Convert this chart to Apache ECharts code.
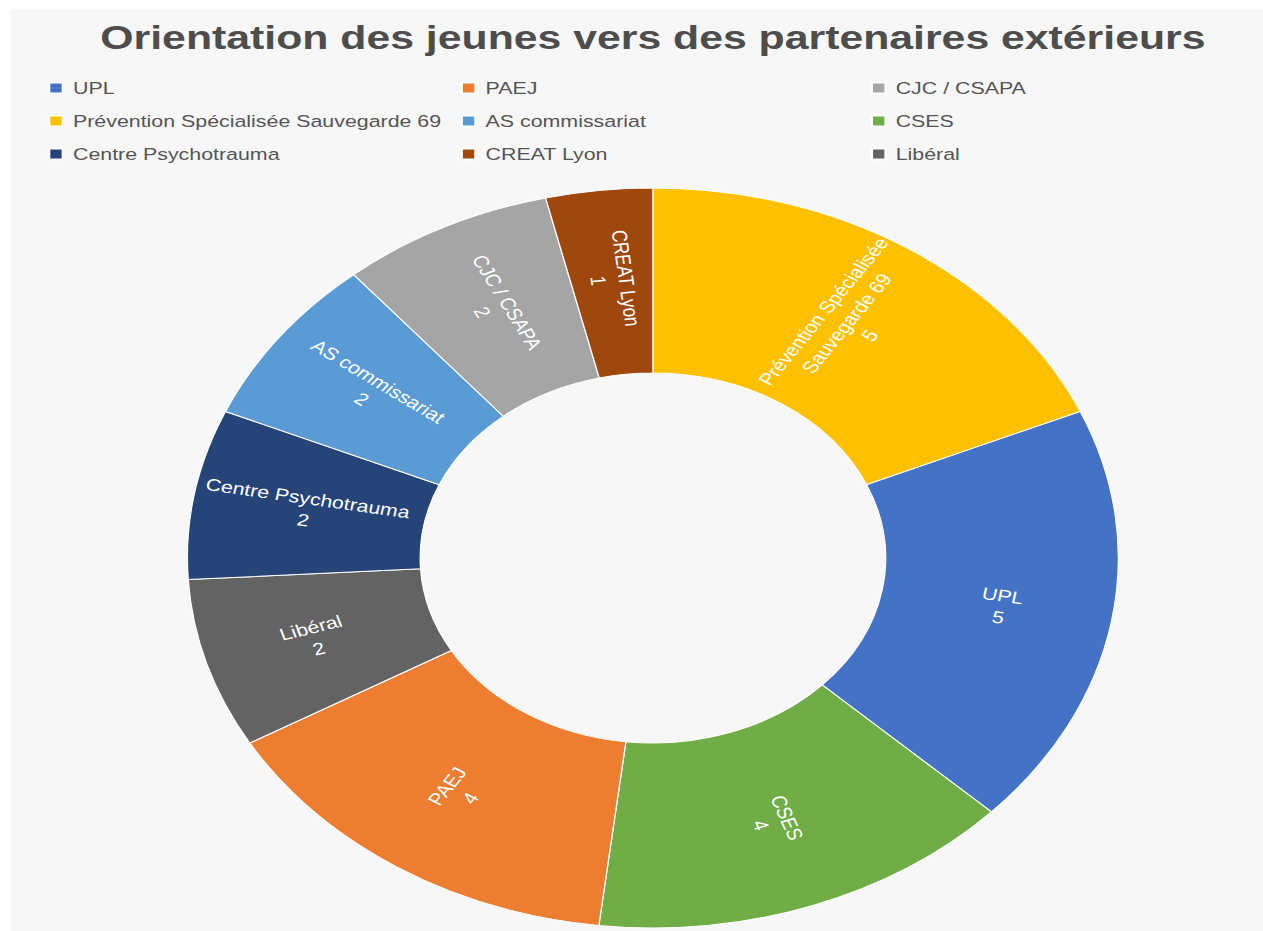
<!DOCTYPE html>
<html>
<head>
<meta charset="utf-8">
<title>Orientation des jeunes vers des partenaires extérieurs</title>
<script src="https://cdn.jsdelivr.net/npm/echarts@6/dist/echarts.min.js"></script>
<style>
  html, body { margin: 0; padding: 0; background: #ffffff; overflow: hidden; }
  #panel { position: absolute; left: 11px; top: 9px; right: 0; bottom: 0; background: #f7f7f7; }
  /* the source picture is stretched sideways (~1.258x), so draw narrow and widen it */
  #chart { position: absolute; left: 0; top: 0; width: 1004px; height: 931px; transform: scaleX(1.258); transform-origin: 0 0; }
</style>
</head>
<body>
<div id="panel"></div>
<div id="chart"></div>
<script>
// slices, clockwise from 12 o'clock
const partners = ['Prévention Spécialisée Sauvegarde 69', 'UPL', 'CSES', 'PAEJ', 'Libéral', 'Centre Psychotrauma', 'AS commissariat', 'CJC / CSAPA', 'CREAT Lyon'];
const counts = [5, 5, 4, 4, 2, 2, 2, 2, 1];
const colors = ['#FFC000', '#4472C4', '#70AD47', '#ED7D31', '#636363', '#264478', '#5B9BD5', '#A5A5A5', '#9E480E'];

// legend is laid out in 3 columns
const legendCol1 = ['UPL', 'Prévention Spécialisée Sauvegarde 69', 'Centre Psychotrauma'];
const legendCol2 = ['PAEJ', 'AS commissariat', 'CREAT Lyon'];
const legendCol3 = ['CJC / CSAPA', 'CSES', 'Libéral'];
const legendLeft = [38, 366, 692];

const fontFamily = '"Liberation Sans", Arial, sans-serif';

const wrapName = (name, max) => {
  const lines = [];
  let line = '';
  name.split(' ').forEach((w) => {
    if (line && (line + ' ' + w).length > max) {
      lines.push(line);
      line = w;
    } else {
      line = line ? line + ' ' + w : w;
    }
  });
  lines.push(line);
  return lines.join('\n');
};

const legendFor = (names, left) => ({
  data: names,
  orient: 'vertical',
  left: left,
  top: 78,
  padding: 0,
  itemGap: 13,
  itemWidth: 11,
  itemHeight: 11,
  icon: 'rect',
  selectedMode: false,
  textStyle: {
    fontFamily,
    fontSize: 17,
    lineHeight: 20,
    color: '#555555',
    padding: [0, 0, 0, 3],
  },
});

const chart = echarts.init(document.getElementById('chart'), null, { renderer: 'svg' });

chart.setOption({
  animation: false,
  backgroundColor: 'transparent',
  title: {
    text: 'Orientation des jeunes vers des partenaires extérieurs',
    left: 519,
    top: 20,
    padding: 0,
    textAlign: 'center',
    textStyle: {
      fontFamily,
      fontSize: 34,
      fontWeight: 'bold',
      color: '#4d4d4d',
    },
  },
  legend: [
    legendFor(legendCol1, legendLeft[0]),
    legendFor(legendCol2, legendLeft[1]),
    legendFor(legendCol3, legendLeft[2]),
  ],
  series: [
    {
      type: 'pie',
      center: [519, 558],
      radius: [185, 370],
      startAngle: 90,
      clockwise: true,
      avoidLabelOverlap: false,
      itemStyle: {
        borderColor: '#ffffff',
        borderWidth: 1,
      },
      label: {
        show: true,
        position: 'inside',
        rotate: 'radial',
        color: '#ffffff',
        fontFamily,
        fontSize: 17,
        lineHeight: 22,
        formatter: (p) => wrapName(p.name, 22) + '\n' + p.value,
      },
      labelLine: { show: false },
      emphasis: { disabled: true },
      data: partners.map((name, i) => ({
        name,
        value: counts[i],
        itemStyle: { color: colors[i] },
      })),
    },
  ],
});
</script>
</body>
</html>
